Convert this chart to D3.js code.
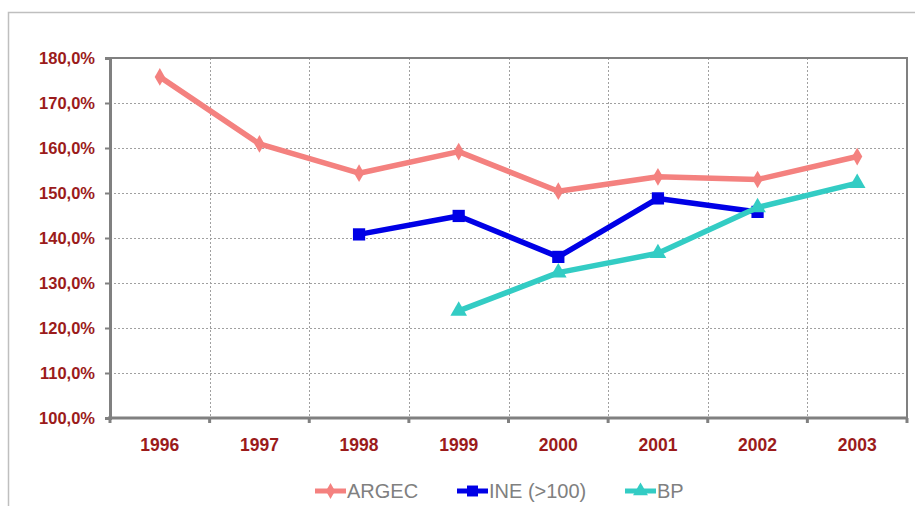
<!DOCTYPE html>
<html><head><meta charset="utf-8">
<script src="https://cdn.jsdelivr.net/npm/d3@7/dist/d3.min.js"></script>
<style>body{margin:0;background:#fff}svg{display:block}</style>
</head><body><svg id="c" width="915" height="506"></svg>
<script>
const years = ["1996","1997","1998","1999","2000","2001","2002","2003"];
const argec = [175.8,160.9,154.4,159.2,150.4,153.6,153.0,158.1];
const ine   = [null,null,140.8,144.9,135.8,148.8,145.8,null];
const bp    = [null,null,null,123.8,132.3,136.6,146.8,152.2];
const yTicks = [100,110,120,130,140,150,160,170,180];
const seriesNames = ["ARGEC","INE (>100)","BP"];

const svg = d3.select("#c");
const m = {l:110, t:58, r:907, b:418};
const x = d3.scaleBand().domain(years).range([m.l, m.r]);
const y = d3.scaleLinear().domain([100,180]).range([m.b, m.t]);
const red = "#9B1B1B";
const fmt = v => v.toFixed(1).replace(".", ",") + "%";
const font = "Arial, 'Liberation Sans', sans-serif";

// outer frame
svg.append("path").attr("d","M8.5,506 V12.5 H915").attr("fill","none").attr("stroke","#BFBFBF").attr("stroke-width",1.5);

// gridlines
svg.append("g").selectAll("line").data(yTicks.filter(d=>d>100 && d<180)).join("line")
  .attr("x1",m.l).attr("x2",m.r).attr("y1",d=>Math.round(y(d))+0.5).attr("y2",d=>Math.round(y(d))+0.5)
  .attr("stroke","#A0A0A0").attr("stroke-dasharray","2,2").attr("stroke-width",1);
svg.append("g").selectAll("line").data(years.slice(1)).join("line")
  .attr("x1",d=>Math.round(x(d))+0.5).attr("x2",d=>Math.round(x(d))+0.5).attr("y1",m.t).attr("y2",m.b)
  .attr("stroke","#A0A0A0").attr("stroke-dasharray","2,2").attr("stroke-width",1);

// plot border top/right
svg.append("path").attr("d",`M${m.l},${m.t} H${m.r} V${m.b}`).attr("fill","none").attr("stroke","#808080").attr("stroke-width",2);

// y axis
const yAxis = d3.axisLeft(y).tickValues(yTicks).tickSize(5).tickPadding(10).tickFormat(fmt);
const gy = svg.append("g").attr("transform",`translate(${m.l},0)`).call(yAxis);
gy.select(".domain").attr("stroke","#808080").attr("stroke-width",3);
gy.selectAll(".tick line").attr("stroke","#808080").attr("stroke-width",2);
gy.selectAll("text").attr("fill",red).attr("font-family",font)
  .attr("font-size",16.5).attr("font-weight","bold");

// x axis
const xb = d3.scaleLinear().domain([0,8]).range([m.l,m.r]);
const gx = svg.append("g").attr("transform",`translate(0,${m.b})`);
gx.append("line").attr("x1",m.l-2).attr("x2",m.r).attr("stroke","#808080").attr("stroke-width",3);
gx.selectAll("line.t").data(d3.range(9)).join("line").attr("class","t")
  .attr("x1",d=>xb(d)).attr("x2",d=>xb(d)).attr("y1",0).attr("y2",5).attr("stroke","#808080").attr("stroke-width",3);
gx.selectAll("text").data(years).join("text")
  .attr("x",d=>x(d)+x.bandwidth()/2).attr("y",33).attr("text-anchor","middle")
  .attr("fill",red).attr("font-family",font).attr("font-size",17.5).attr("font-weight","bold")
  .text(d=>d);

// series
const series = [
  {name:seriesNames[0], vals:argec, color:"#F4817F", sym:d3.symbolDiamond, size:90},
  {name:seriesNames[1], vals:ine, color:"#0000E6", sym:d3.symbolSquare, size:150},
  {name:seriesNames[2], vals:bp, color:"#33CCC4", sym:d3.symbolTriangle, size:120}
];
const cx = d => x(d)+x.bandwidth()/2;
series.forEach(s=>{
  const pts = years.map((yr,i)=>({yr, v:s.vals[i]})).filter(p=>p.v!=null);
  svg.append("path").datum(pts)
    .attr("d", d3.line().x(p=>cx(p.yr)).y(p=>y(p.v)))
    .attr("fill","none").attr("stroke",s.color).attr("stroke-width",5.5).attr("stroke-linejoin","round");
  svg.append("g").selectAll("path").data(pts).join("path")
    .attr("transform",p=>`translate(${cx(p.yr)},${y(p.v)})`)
    .attr("d", d3.symbol().type(s.sym).size(s.size)).attr("fill",s.color);
});

// legend
const lg = [{x:315},{x:457},{x:625}];
series.forEach((s,i)=>{
  const g = svg.append("g").attr("transform",`translate(${lg[i].x},491)`);
  g.append("line").attr("x1",0).attr("x2",31).attr("stroke",s.color).attr("stroke-width",5);
  g.append("path").attr("transform","translate(15.5,0)").attr("d",d3.symbol().type(s.sym).size(s.size*0.8)).attr("fill",s.color);
  g.append("text").attr("x",32).attr("y",7).attr("fill","#808080")
    .attr("font-family",font).attr("font-size",20).text(s.name);
});
</script></body></html>
